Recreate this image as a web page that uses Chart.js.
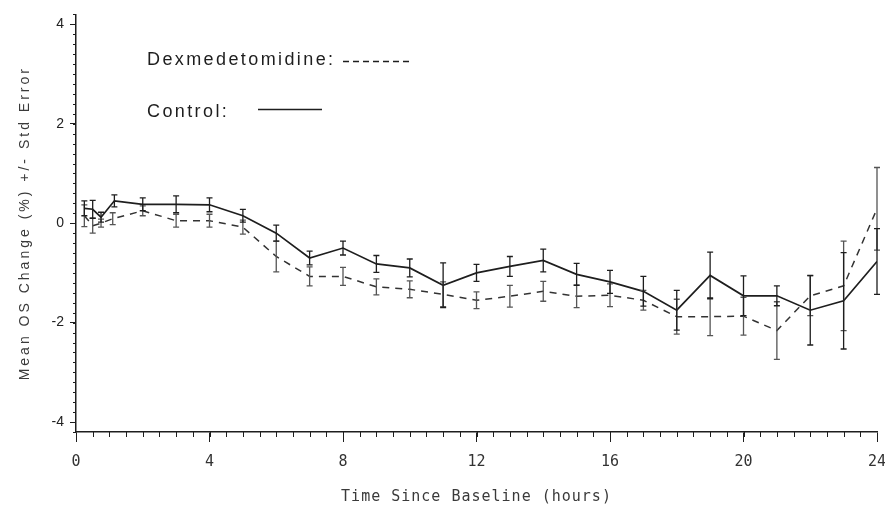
<!DOCTYPE html>
<html>
<head>
<meta charset="utf-8">
<script src="https://cdn.jsdelivr.net/npm/chart.js@4/dist/chart.umd.min.js"></script>
<style>
  body { margin: 0; background: #fff; }
  #wrap { width: 885px; height: 518px; position: relative; }
</style>
</head>
<body>
<div id="wrap"><canvas id="osChart"></canvas></div>
<script>
// Mean OS change (%) with standard error, by hour since baseline
const controlHours = [0.25, 0.5, 0.75, 1.15, 2, 3, 4, 5, 6, 7, 8, 9, 10, 11, 12, 13, 14, 15, 16, 17, 18, 19, 20, 21, 22, 23, 24];
const controlMean = [0.3, 0.28, 0.12, 0.45, 0.38, 0.38, 0.37, 0.15, -0.2, -0.7, -0.5, -0.82, -0.9, -1.25, -1.0, -0.87, -0.75, -1.03, -1.18, -1.37, -1.75, -1.05, -1.46, -1.46, -1.75, -1.56, -0.77];
const controlErr = [0.15, 0.18, 0.1, 0.12, 0.13, 0.17, 0.14, 0.13, 0.16, 0.14, 0.14, 0.17, 0.18, 0.45, 0.17, 0.2, 0.23, 0.22, 0.23, 0.3, 0.4, 0.47, 0.4, 0.2, 0.7, 0.97, 0.66];

const dexHours = [0.25, 0.5, 0.75, 1.1, 2, 3, 4, 5, 6, 7, 8, 9, 10, 11, 12, 13, 14, 15, 16, 17, 18, 19, 20, 21, 22, 23, 24];
const dexMean = [0.15, -0.05, 0.0, 0.09, 0.25, 0.05, 0.05, -0.08, -0.67, -1.07, -1.07, -1.28, -1.33, -1.43, -1.55, -1.47, -1.37, -1.47, -1.45, -1.55, -1.88, -1.88, -1.87, -2.16, -1.46, -1.26, 0.29];
const dexErr = [0.22, 0.15, 0.08, 0.12, 0.1, 0.13, 0.13, 0.14, 0.31, 0.19, 0.18, 0.16, 0.17, 0.25, 0.17, 0.22, 0.2, 0.23, 0.23, 0.2, 0.35, 0.38, 0.38, 0.58, 0.4, 0.9, 0.83];

const xTicks = [0, 4, 8, 12, 16, 20, 24];
const yTicks = [-4, -2, 0, 2, 4];

const ink = '#1e1e1e';

function toPoints(xs, ys) {
  return xs.map((x, i) => ({ x: x, y: ys[i] }));
}

// vertical error bars with small caps, using each dataset's errorBars list
const errorBarPlugin = {
  id: 'errorBars',
  afterDatasetsDraw(chart) {
    const ctx = chart.ctx;
    const yScale = chart.scales.y;
    chart.data.datasets.forEach((ds, di) => {
      const meta = chart.getDatasetMeta(di);
      ctx.save();
      ctx.strokeStyle = ds.barColor;
      ctx.lineWidth = 1.3;
      meta.data.forEach((pt, i) => {
        const v = ds.data[i].y;
        const e = ds.errorBars[i];
        const top = yScale.getPixelForValue(v + e);
        const bot = yScale.getPixelForValue(v - e);
        ctx.beginPath();
        ctx.moveTo(pt.x, top);
        ctx.lineTo(pt.x, bot);
        ctx.moveTo(pt.x - 3, top);
        ctx.lineTo(pt.x + 3, top);
        ctx.moveTo(pt.x - 3, bot);
        ctx.lineTo(pt.x + 3, bot);
        ctx.stroke();
      });
      ctx.restore();
    });
  }
};

// minor ticks on both axes, axis titles and the in-plot key
const decorPlugin = {
  id: 'decor',
  afterDraw(chart) {
    const ctx = chart.ctx;
    const xs = chart.scales.x;
    const ys = chart.scales.y;
    const area = chart.chartArea;

    ctx.save();
    ctx.strokeStyle = ink;
    ctx.lineWidth = 1;
    ctx.beginPath();
    for (let v = -4.2; v <= 4.21; v += 0.2) {
      const py = Math.round(ys.getPixelForValue(v)) + 0.5;
      ctx.moveTo(area.left - 3, py);
      ctx.lineTo(area.left, py);
    }
    for (let h = 0.5; h < 24; h += 0.5) {
      const px = Math.round(xs.getPixelForValue(h)) + 0.5;
      ctx.moveTo(px, area.bottom);
      ctx.lineTo(px, area.bottom + 5);
    }
    ctx.stroke();

    // y axis title
    ctx.fillStyle = '#3a3a3a';
    ctx.font = '14px "Liberation Sans", Arial, sans-serif';
    ctx.letterSpacing = '3px';
    ctx.textAlign = 'center';
    ctx.textBaseline = 'middle';
    ctx.save();
    ctx.translate(25, (area.top + area.bottom) / 2);
    ctx.rotate(-Math.PI / 2);
    ctx.fillText('Mean OS Change (%) +/- Std Error', 0, 0);
    ctx.restore();

    // x axis title
    ctx.font = '15px "DejaVu Sans Mono", monospace';
    ctx.letterSpacing = '1px';
    ctx.fillText('Time Since Baseline (hours)', (area.left + area.right) / 2, 497);

    // key
    ctx.letterSpacing = '2.4px';
    ctx.fillStyle = ink;
    ctx.textAlign = 'left';
    ctx.textBaseline = 'alphabetic';
    ctx.font = '18px "Liberation Sans", Arial, sans-serif';
    ctx.fillText('Dexmedetomidine:', 147, 65);
    ctx.fillText('Control:', 147, 117);

    ctx.lineWidth = 1.4;
    ctx.setLineDash([6, 4]);
    ctx.beginPath();
    ctx.moveTo(343, 61.5);
    ctx.lineTo(412, 61.5);
    ctx.stroke();
    ctx.setLineDash([]);
    ctx.lineWidth = 1.6;
    ctx.beginPath();
    ctx.moveTo(258, 109.5);
    ctx.lineTo(322, 109.5);
    ctx.stroke();
    ctx.restore();
  }
};

new Chart(document.getElementById('osChart'), {
  type: 'line',
  data: {
    datasets: [
      {
        label: 'Dexmedetomidine',
        data: toPoints(dexHours, dexMean),
        errorBars: dexErr,
        barColor: '#555',
        borderColor: '#333',
        borderWidth: 1.5,
        borderDash: [7, 6],
        pointRadius: 0,
        tension: 0
      },
      {
        label: 'Control',
        data: toPoints(controlHours, controlMean),
        errorBars: controlErr,
        barColor: ink,
        borderColor: ink,
        borderWidth: 1.7,
        pointRadius: 0,
        tension: 0
      }
    ]
  },
  options: {
    responsive: true,
    maintainAspectRatio: false,
    animation: false,
    layout: { padding: { left: 1, top: 10, right: 8, bottom: 0 } },
    plugins: {
      legend: { display: false },
      tooltip: { enabled: false }
    },
    scales: {
      x: {
        type: 'linear',
        min: 0,
        max: 24,
        afterFit(scale) {
          scale.height = 86;
          // keep the end labels from shrinking the plot width
          scale.paddingLeft = 0;
          scale.paddingRight = 0;
        },
        afterBuildTicks(scale) { scale.ticks = xTicks.map(v => ({ value: v })); },
        border: { display: true, color: ink, width: 1.5 },
        grid: { drawOnChartArea: false, tickLength: 10, color: ink, tickColor: ink },
        ticks: {
          padding: 11,
          color: '#333',
          font: { family: '"DejaVu Sans Mono", monospace', size: 15 },
          maxRotation: 0
        }
      },
      y: {
        type: 'linear',
        min: -4.2,
        max: 4.2,
        afterFit(scale) { scale.width = 75; },
        afterBuildTicks(scale) { scale.ticks = yTicks.map(v => ({ value: v })); },
        border: { display: true, color: ink, width: 1.5 },
        grid: { drawOnChartArea: false, tickLength: 6, color: ink, tickColor: ink },
        ticks: {
          padding: 6,
          color: '#222',
          font: { family: '"Liberation Sans", Arial, sans-serif', size: 14 }
        }
      }
    }
  },
  plugins: [errorBarPlugin, decorPlugin]
});
</script>
</body>
</html>
